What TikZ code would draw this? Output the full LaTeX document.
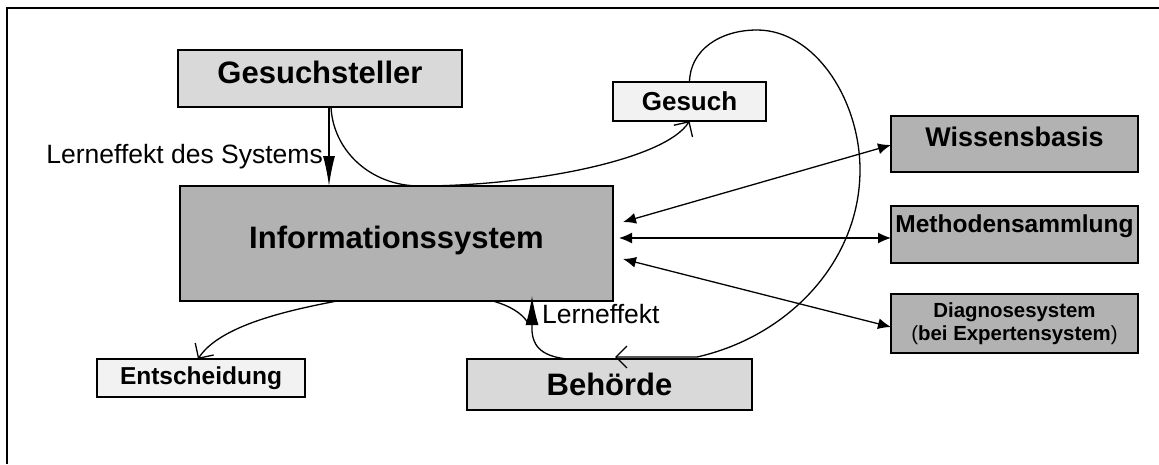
\documentclass[tikz,border=0pt]{standalone}
\usepackage{fontspec}
\setmainfont{Liberation Sans}
\usetikzlibrary{arrows.meta}
\definecolor{gA}{HTML}{D9D9D9}
\definecolor{gB}{HTML}{F2F2F2}
\definecolor{gC}{HTML}{B2B2B2}
\tikzset{
  box/.style={draw=black, line width=1.6pt, inner sep=0pt, outer sep=0pt, align=center},
  conn/.style={line width=1.3pt},
  openhead/.style={-{Straight Barb[length=11pt,width=22pt,line width=1.3pt]}},
  bighead/.style={-{Latex[length=29pt,width=13pt]}},
  dblhead/.style={{Latex[length=13pt,width=11pt]}-{Latex[length=13pt,width=11pt]}},
  lbl/.style={inner sep=0pt, font=\fontsize{26.5}{30}\selectfont},
}
\begin{document}
\begin{tikzpicture}[x=1pt,y=-1pt]
\useasboundingbox (0,0) rectangle (1159,464);
% frame
\draw[line width=2pt] (7,464) -- (7,8) -- (1159,8);

% nodes
\node[box, fill=gA, minimum width=284pt, minimum height=57pt, text depth=12pt,
      font=\fontsize{31}{37}\selectfont\bfseries] (gs) at (320,78.5) {Gesuchsteller};
\node[box, fill=gB, minimum width=153pt, minimum height=39pt,
      font=\fontsize{26}{30}\selectfont\bfseries] (gesuch) at (689.5,101.5) {Gesuch};
\node[box, fill=gC, minimum width=433pt, minimum height=115pt, text depth=11.5pt,
      font=\fontsize{31}{37}\selectfont\bfseries] (info) at (396.5,243.5) {Informationssystem};
\node[box, fill=gC, minimum width=247pt, minimum height=56pt, text depth=14pt,
      font=\fontsize{27}{31}\selectfont\bfseries] (wb) at (1014.5,144) {Wissensbasis};
\node[box, fill=gC, minimum width=247pt, minimum height=57pt, text depth=21pt,
      font=\fontsize{24.5}{28}\selectfont\bfseries] (ms) at (1014.5,234.5) {Methodensammlung};
\node[box, fill=gC, minimum width=247pt, minimum height=59pt,
      font=\fontsize{20.4}{23}\selectfont\bfseries] (ds) at (1014.5,323.5)
      {Diagnosesystem\\{\mdseries(}bei Expertensystem{\mdseries)}};
\node[box, fill=gB, minimum width=208pt, minimum height=38pt,
      font=\fontsize{24.5}{28}\selectfont\bfseries] (ent) at (201,378) {Entscheidung};
\node[box, fill=gA, minimum width=285pt, minimum height=51pt,
      font=\fontsize{31}{37}\selectfont\bfseries] (beh) at (609.5,384.5) {Behörde};

% labels
\node[lbl, anchor=base east] (l1) at (323,163) {Lerneffekt des Systems};
\node[lbl, anchor=base west] (l2) at (542,323) {Lerneffekt};

% Gesuchsteller -> Informationssystem
\draw[conn, -{Latex[length=30pt,width=12pt]}] ([xshift=151pt]gs.south west) -- ([xshift=149pt]info.north west);

% Gesuchsteller -> Gesuch (touching Informationssystem)
\draw[conn, openhead] ([xshift=153pt]gs.south west)
   .. controls (333,150) and (370,186) .. (420,186)
   .. controls (530,186) and (665,160) .. (gesuch.south);

% Gesuch -> Behoerde loop
\draw[conn, openhead] (gesuch.north)
   .. controls (690,50) and (720,30) .. (757,30)
   .. controls (815,30) and (860,100) .. (860,170)
   .. controls (860,260) and (790,336) .. (697,357)
   -- ([xshift=148pt,yshift=2pt]beh.north west);

% double arrows
\draw[conn, dblhead] ([xshift=10pt,yshift=21.5pt]info.east) -- ([yshift=-1pt]wb.west);
\draw[conn, dblhead] ([xshift=6pt,yshift=5.5pt]info.east) -- ([yshift=-3.5pt]ms.west);
\draw[conn, dblhead] ([xshift=10pt,yshift=-15.5pt]info.east) -- ([yshift=-3.5pt]ds.west);

% Informationssystem -> Entscheidung
\draw[conn, openhead] ([xshift=157pt]info.south west)
   .. controls (290,310) and (220,325) .. ([xshift=101pt]ent.north west);

% Behoerde -> Informationssystem (Lerneffekt)
\draw[conn, bighead] ([xshift=100pt]beh.north west)
   .. controls (540,356) and (531,345) .. (532,325)
   -- ([xshift=352pt,yshift=5pt]info.south west);
\coordinate (lj) at (528,323);
\draw[conn] ([xshift=313pt]info.south west) .. controls (510,306) and (522,313) .. (lj);
\end{tikzpicture}
\end{document}
